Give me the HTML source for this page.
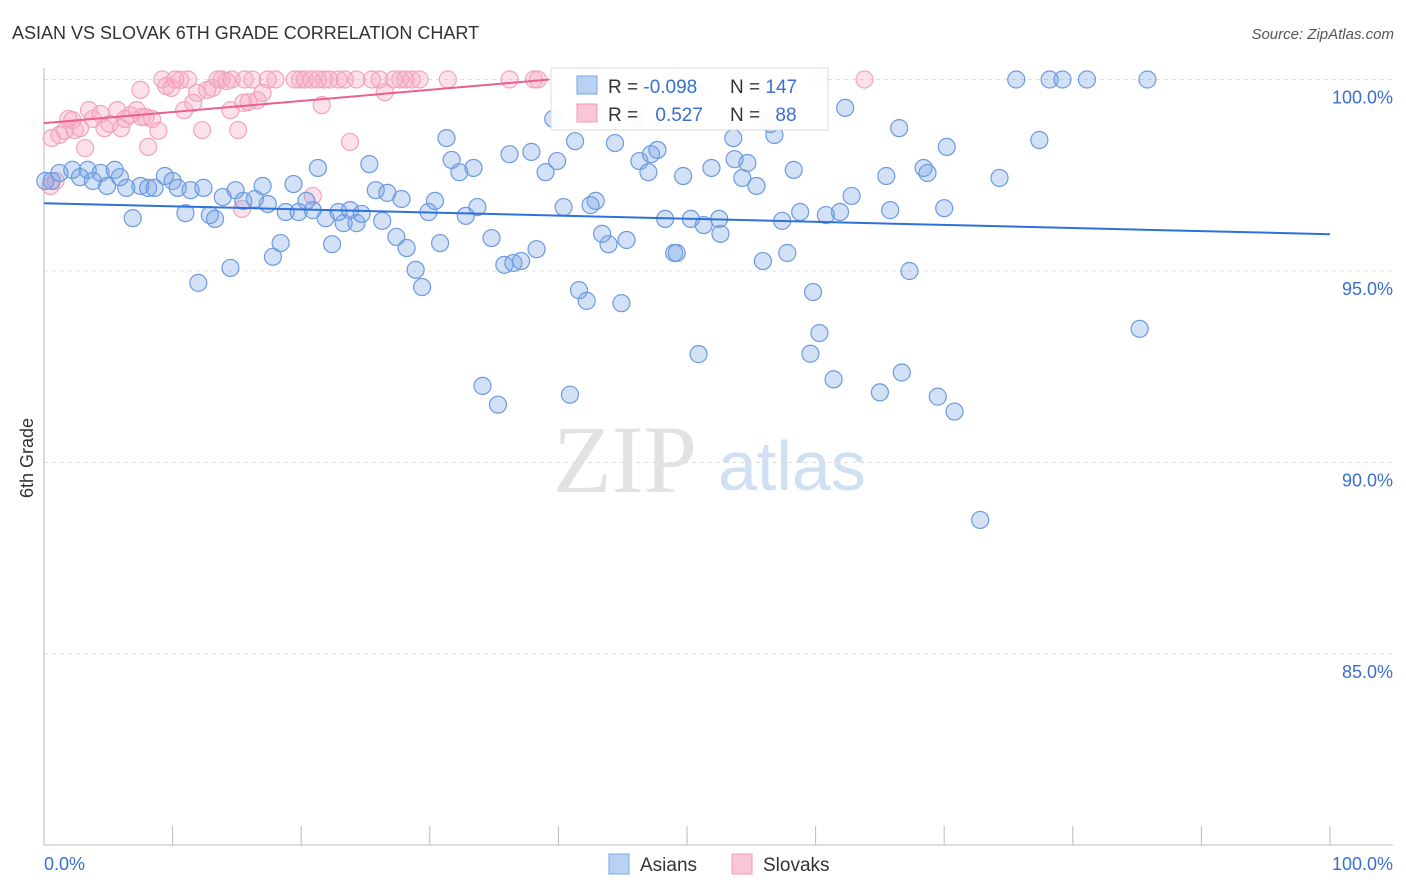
<!DOCTYPE html>
<html><head><meta charset="utf-8"><style>
body{margin:0;background:#fff;font-family:"Liberation Sans",sans-serif;}
svg{display:block}
</style></head><body>
<svg id="chart" width="1406" height="892" xmlns="http://www.w3.org/2000/svg">
<text x="12" y="39" font-size="18" fill="#333">ASIAN VS SLOVAK 6TH GRADE CORRELATION CHART</text>
<text x="1394" y="39" font-size="15" fill="#555" font-style="italic" text-anchor="end">Source: ZipAtlas.com</text>
<text x="33" y="458" font-size="18" fill="#333" transform="rotate(-90 33 458)" text-anchor="middle">6th Grade</text>
<g>
<text x="553" y="492" font-size="96" font-family="Liberation Serif,serif" fill="#e2e2e2">ZIP</text>
<text x="718" y="490" font-size="70" fill="#cfe0f3">atlas</text>
</g>
<g id="grid"></g>
<g id="axes"></g>
<g id="pink"></g>
<g id="blue"></g>
<g id="trends"></g>
<g>
<rect x="551" y="68" width="277" height="62" fill="#fff" stroke="#ddd" opacity="0.95"/>
<rect x="577" y="76" width="20" height="18" fill="#b9d2f3" stroke="#7aa6e3"/>
<rect x="577" y="104" width="20" height="18" fill="#f9c6d5" stroke="#f09ab4"/>
<text x="608" y="93" font-size="19" fill="#333">R = <tspan fill="#3a6fd0">-0.098</tspan></text>
<text x="730" y="93" font-size="19" fill="#333">N = <tspan fill="#3a6fd0">147</tspan></text>
<text x="608" y="121" font-size="19" fill="#333">R = <tspan fill="#3a6fd0" dx="12">0.527</tspan></text>
<text x="730" y="121" font-size="19" fill="#333">N = <tspan fill="#3a6fd0" dx="10">88</tspan></text>
</g>
<g>
<rect x="609" y="854" width="20" height="20" fill="#b9d2f3" stroke="#7aa6e3"/>
<text x="640" y="871" font-size="19" fill="#333">Asians</text>
<rect x="732" y="854" width="20" height="20" fill="#f9c6d5" stroke="#f09ab4"/>
<text x="763" y="871" font-size="19" fill="#333">Slovaks</text>
</g>
</svg>
<script>
const yTicks=[100,95,90,85];
const yTickLabels=["100.0%","95.0%","90.0%","85.0%"];
const xTickLabels=["0.0%","100.0%"];
const blueX=[0.6,1.2,2.2,3.4,2.8,3.8,4.4,4.9,5.5,5.9,6.4,6.9,7.5,8.1,8.6,9.4,10.0,10.4,11.0,11.4,12.0,12.4,12.9,13.3,13.9,14.5,14.9,15.5,16.4,17.0,17.4,17.8,18.4,18.8,19.4,19.8,20.4,20.9,21.3,21.9,22.4,22.9,23.3,23.8,24.3,24.7,25.3,25.8,26.3,26.7,27.4,27.8,28.2,28.9,29.4,29.9,30.4,30.8,31.3,31.7,32.3,32.8,33.4,33.7,34.1,34.8,35.3,35.8,36.5,37.1,38.3,36.2,37.9,39.0,39.9,40.4,40.9,41.3,41.6,42.2,42.9,43.4,43.9,44.4,44.9,45.3,46.3,47.0,47.2,47.7,48.3,49.0,49.2,49.7,50.3,50.9,51.3,51.9,52.5,52.6,53.6,53.7,54.3,54.7,55.4,55.9,56.5,56.8,57.4,57.8,58.3,58.8,59.8,60.3,59.6,60.8,61.4,61.9,62.3,62.8,65.0,65.5,65.8,66.5,66.7,67.3,68.4,68.7,69.5,70.0,70.2,70.8,72.8,74.3,75.6,77.4,78.2,79.2,81.1,85.2,85.8,46.0,39.6,56.1,0.1,42.5];
const blueY=[97.35,97.56,97.64,97.64,97.45,97.35,97.56,97.22,97.64,97.45,97.17,96.38,97.22,97.17,97.17,97.48,97.35,97.17,96.51,97.11,94.69,97.17,96.46,96.36,96.93,95.08,97.11,96.83,96.88,97.22,96.75,95.37,95.73,96.54,97.27,96.54,96.83,96.59,97.69,96.38,95.7,96.54,96.25,96.59,96.25,96.49,97.79,97.11,96.31,97.04,95.89,96.88,95.6,95.03,94.58,96.54,96.83,95.73,98.47,97.9,97.58,96.44,97.69,96.67,92.0,95.86,91.51,95.16,95.21,95.26,95.57,98.05,98.11,97.58,97.87,96.67,91.77,98.39,94.5,94.22,96.83,95.97,95.7,98.34,94.16,95.81,97.87,97.58,98.05,98.16,96.36,95.47,95.47,97.48,96.36,92.83,96.2,97.69,96.36,95.97,98.47,97.92,97.43,97.82,97.22,95.26,98.84,98.55,96.31,95.47,97.64,96.54,94.45,93.38,92.84,96.46,92.17,96.54,99.26,96.96,91.83,97.48,96.59,98.73,92.35,95.0,97.69,97.56,91.72,96.64,98.24,91.33,88.5,97.43,100,98.42,100,100,100,93.49,100,98.99,98.97,98.92,97.35,96.72];
const pinkX=[0.6,0.5,0.9,1.2,1.6,1.9,2.2,2.4,2.8,3.2,3.5,3.8,4.4,4.7,5.1,5.7,6.0,6.3,6.7,7.2,7.6,8.1,8.4,8.9,9.2,9.5,9.9,10.2,10.6,10.9,11.2,11.6,11.9,12.3,12.7,13.1,13.5,13.8,14.2,14.6,15.1,15.5,15.9,16.2,16.6,17.0,17.4,18.0,19.5,19.9,20.3,20.8,21.3,21.8,21.6,22.9,23.4,23.8,24.3,25.5,26.5,27.2,27.7,28.1,28.6,29.2,31.4,36.2,38.1,38.4,49.0,60.2,63.8,20.9,15.4,15.6,7.9,14.5,7.5,22.2,26.1];
const pinkY=[98.47,97.22,97.35,98.55,98.66,98.97,98.94,98.68,98.73,98.21,99.2,98.97,99.1,98.73,98.84,99.2,98.73,98.97,99.07,99.2,99.02,98.24,98.97,98.66,100,99.83,99.78,100,99.99,99.2,100,99.39,99.65,98.68,99.73,99.78,100,100,99.96,100,98.68,99.39,99.41,100,99.46,99.65,100,100,100,100,100,100,100,100,99.33,100,100,98.37,100,100,99.67,100,100,100,100,100,100,100,100,100,100,100,100,96.96,96.62,100,99.02,99.2,99.73,100,100];
const blueTrend=[96.77,95.96]; // y at x=0, x=100
const pinkTrend=[98.86,100.0,39.3]; // y at x=0, y at end, end x
const NS="http://www.w3.org/2000/svg";
const X0=44,X1=1330,YTOP=79.5,PER5=191.5;
function sx(v){return X0+v*(X1-X0)/100;}
function sy(v){return YTOP+(100-v)*PER5/5;}
function mk(tag,attrs,parent){const e=document.createElementNS(NS,tag);for(const k in attrs)e.setAttribute(k,attrs[k]);parent.appendChild(e);return e;}
const grid=document.getElementById('grid'),axes=document.getElementById('axes');
yTicks.forEach((t,i)=>{
 const l=mk('line',{x1:44,x2:1393,y1:sy(t),y2:sy(t),stroke:'#ddd','stroke-dasharray':'4,4'},grid);
 
 
 const tx=mk('text',{x:1393,y:sy(t)+24,'font-size':18,fill:'#3a6fd0','text-anchor':'end'},axes);
 tx.textContent=yTickLabels[i];
 
 
});
const ya=mk('line',{x1:44,x2:44,y1:68,y2:845,stroke:'#bbb'},axes);


const xa=mk('line',{x1:44,x2:1393,y1:845,y2:845,stroke:'#bbb'},axes);


for(let i=0;i<=10;i++){
 const t=mk('line',{x1:sx(i*10),x2:sx(i*10),y1:826,y2:845,stroke:'#bbb'},axes);
 
 
}
const xl0=mk('text',{x:44,y:870,'font-size':18,fill:'#3a6fd0'},axes);
xl0.textContent=xTickLabels[0];


const xl1=mk('text',{x:1393,y:870,'font-size':18,fill:'#3a6fd0','text-anchor':'end'},axes);
xl1.textContent=xTickLabels[1];


const pg=document.getElementById('pink');
pinkX.forEach((x,i)=>{
 const c=mk('circle',{cx:sx(x),cy:sy(pinkY[i]),r:8.5,fill:'rgba(246,168,195,0.35)',stroke:'#f2a3bd','stroke-width':1.2},pg);
 
 
});
const bg=document.getElementById('blue');
blueX.forEach((x,i)=>{
 const c=mk('circle',{cx:sx(x),cy:sy(blueY[i]),r:8.5,fill:'rgba(120,165,230,0.33)',stroke:'#6b9ae0','stroke-width':1.2},bg);
 
 
});
const tg=document.getElementById('trends');
const bt=mk('line',{x1:sx(0),y1:sy(blueTrend[0]),x2:sx(100),y2:sy(blueTrend[1]),stroke:'#2d72d9','stroke-width':2},tg);


const pt=mk('line',{x1:sx(0),y1:sy(pinkTrend[0]),x2:sx(pinkTrend[2]),y2:sy(pinkTrend[1]),stroke:'#ea5f8c','stroke-width':2},tg);


</script>
</body></html>
